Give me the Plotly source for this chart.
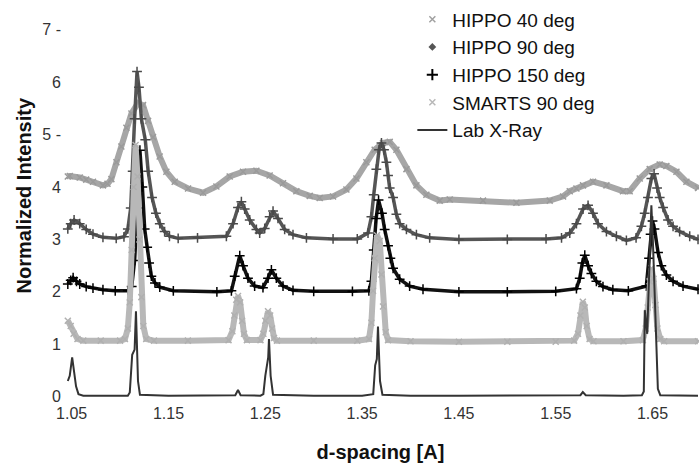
import plotly.graph_objects as go

# ---- data (d-spacing in Angstrom, normalized intensity with offsets) ----
hippo40_d = [1.046, 1.048, 1.0583, 1.065, 1.072, 1.0823, 1.087, 1.091, 1.0962, 1.1013, 1.1065, 1.1117,
             1.1185, 1.1237, 1.1289, 1.134, 1.1409, 1.1478, 1.1564, 1.1702, 1.1857, 1.1995, 1.2132, 1.227,
             1.2408, 1.2545, 1.2683, 1.2821, 1.2959, 1.3062, 1.32, 1.3338, 1.3441, 1.3544, 1.363, 1.3716,
             1.3785, 1.3854, 1.3958, 1.4061, 1.4164, 1.4302, 1.4405, 1.4749, 1.5094, 1.5438, 1.5576, 1.5645,
             1.5714, 1.5782, 1.5885, 1.6024, 1.6195, 1.6264, 1.6368, 1.6471, 1.6574, 1.6643, 1.6747, 1.685, 1.697]
hippo40_i = [4.20, 4.21, 4.18, 4.14, 4.10, 4.03, 4.06, 4.15, 4.47, 4.77, 5.13, 5.40,
             5.60, 5.56, 5.26, 4.95, 4.58, 4.29, 4.10, 3.97, 3.89, 4.01, 4.20, 4.29,
             4.31, 4.22, 4.07, 3.92, 3.83, 3.79, 3.82, 3.95, 4.16, 4.47, 4.71, 4.84,
             4.86, 4.71, 4.34, 4.03, 3.85, 3.74, 3.76, 3.74, 3.70, 3.74, 3.82, 3.92,
             3.97, 4.03, 4.10, 4.03, 3.92, 3.92, 4.16, 4.34, 4.43, 4.40, 4.29, 4.10, 3.98]

hippo90_d = [1.046, 1.049, 1.0525, 1.0583, 1.065, 1.072, 1.0823, 1.096, 1.104, 1.108, 1.111, 1.113,
             1.115, 1.1175, 1.1195, 1.122, 1.126, 1.129, 1.133, 1.137, 1.141, 1.146, 1.151, 1.16,
             1.18, 1.2098, 1.2167, 1.2218, 1.2253, 1.2287, 1.2339, 1.2408, 1.2442, 1.2494, 1.2545, 1.258,
             1.2631, 1.27, 1.2786, 1.2925, 1.32, 1.345, 1.3561, 1.3596, 1.362, 1.3647, 1.3675, 1.37,
             1.3726, 1.3751, 1.3768, 1.3785, 1.382, 1.3854, 1.3888, 1.3958, 1.4061, 1.4198, 1.45, 1.5,
             1.54, 1.556, 1.5645, 1.5714, 1.5782, 1.5834, 1.5885, 1.5937, 1.6024, 1.6127, 1.623, 1.633,
             1.6385, 1.6419, 1.6453, 1.6488, 1.6516, 1.6547, 1.6574, 1.6609, 1.666, 1.6712, 1.678, 1.6884, 1.697]
hippo90_i = [3.20, 3.30, 3.37, 3.30, 3.19, 3.10, 3.04, 3.02, 3.05, 3.20, 3.60, 4.30,
             5.30, 6.20, 5.90, 5.30, 4.90, 4.30, 3.80, 3.50, 3.30, 3.15, 3.06, 3.02,
             3.03, 3.06, 3.30, 3.61, 3.72, 3.58, 3.37, 3.19, 3.12, 3.21, 3.43, 3.54,
             3.40, 3.19, 3.09, 3.03, 3.01, 3.01, 3.12, 3.43, 3.85, 4.34, 4.71, 4.84,
             4.71, 4.47, 4.22, 3.98, 3.80, 3.48, 3.30, 3.19, 3.09, 3.03, 3.00, 3.00,
             3.01, 3.03, 3.12, 3.30, 3.58, 3.65, 3.50, 3.30, 3.15, 3.06, 2.98, 3.03,
             3.25, 3.50, 3.80, 4.16, 4.25, 3.98, 3.80, 3.61, 3.37, 3.25, 3.15, 3.06, 3.00]

hippo150_d = [1.046, 1.049, 1.0515, 1.055, 1.0583, 1.065, 1.072, 1.0823, 1.095, 1.108, 1.112, 1.115,
              1.118, 1.1205, 1.123, 1.1254, 1.128, 1.13, 1.1323, 1.136, 1.141, 1.155, 1.2, 1.215,
              1.2184, 1.2236, 1.227, 1.2321, 1.239, 1.2476, 1.2528, 1.2563, 1.2614, 1.2683, 1.2786, 1.3,
              1.34, 1.357, 1.3596, 1.362, 1.3645, 1.367, 1.3705, 1.3733, 1.3768, 1.3792, 1.382, 1.3888,
              1.3991, 1.4129, 1.45, 1.5, 1.55, 1.5714, 1.5748, 1.5775, 1.58, 1.5834, 1.5868, 1.592,
              1.5988, 1.609, 1.625, 1.6436, 1.6464, 1.648, 1.65, 1.652, 1.6557, 1.6591, 1.6643, 1.6712,
              1.6815, 1.697]
hippo150_i = [2.15, 2.22, 2.27, 2.20, 2.15, 2.10, 2.07, 2.04, 2.02, 2.02, 2.10, 2.60,
              3.60, 4.70, 4.00, 3.20, 2.85, 2.55, 2.30, 2.17, 2.09, 2.02, 2.00, 2.02,
              2.30, 2.69, 2.50, 2.26, 2.11, 2.08, 2.26, 2.42, 2.26, 2.11, 2.03, 2.01,
              2.01, 2.02, 2.20, 2.80, 3.40, 3.75, 3.50, 3.19, 2.88, 2.64, 2.45, 2.24,
              2.11, 2.05, 2.00, 2.00, 2.01, 2.06, 2.26, 2.55, 2.70, 2.50, 2.35, 2.20,
              2.10, 2.04, 2.02, 2.11, 2.64, 3.10, 3.35, 3.20, 2.75, 2.50, 2.32, 2.20,
              2.11, 2.05]

smarts_d = [1.046, 1.049, 1.052, 1.056, 1.062, 1.08, 1.1, 1.105, 1.108, 1.11, 1.112, 1.114,
            1.116, 1.118, 1.12, 1.122, 1.124, 1.127, 1.135, 1.17, 1.212, 1.216, 1.218, 1.22,
            1.2218, 1.224, 1.226, 1.228, 1.231, 1.245, 1.248, 1.25, 1.2528, 1.255, 1.257, 1.259,
            1.262, 1.3, 1.345, 1.3571, 1.3596, 1.3613, 1.363, 1.3654, 1.3682, 1.37, 1.3716, 1.3744,
            1.3768, 1.4, 1.45, 1.5, 1.55, 1.569, 1.573, 1.5755, 1.578, 1.58, 1.582, 1.585,
            1.589, 1.62, 1.64, 1.643, 1.645, 1.647, 1.649, 1.651, 1.653, 1.655, 1.658, 1.662, 1.697]
smarts_i = [1.45, 1.35, 1.20, 1.10, 1.07, 1.07, 1.07, 1.10, 1.30, 1.80, 2.80, 4.00,
            4.80, 4.20, 3.00, 1.90, 1.35, 1.10, 1.07, 1.07, 1.08, 1.25, 1.55, 1.85,
            1.92, 1.80, 1.45, 1.20, 1.08, 1.08, 1.20, 1.45, 1.63, 1.55, 1.30, 1.12,
            1.07, 1.07, 1.07, 1.10, 1.41, 2.02, 2.64, 3.08, 2.97, 2.33, 1.72, 1.23,
            1.08, 1.06, 1.05, 1.05, 1.05, 1.07, 1.20, 1.55, 1.81, 1.70, 1.35, 1.10,
            1.06, 1.06, 1.08, 1.30, 1.70, 2.20, 2.45, 2.25, 1.75, 1.30, 1.10, 1.06, 1.06]

xray_d = [1.046, 1.048, 1.0505, 1.0525, 1.0545, 1.057, 1.062, 1.09, 1.108, 1.11, 1.1125, 1.115,
          1.1164, 1.1185, 1.1205, 1.15, 1.2, 1.219, 1.2218, 1.2245, 1.245, 1.248, 1.25, 1.2515,
          1.253, 1.2538, 1.2555, 1.258, 1.3, 1.35, 1.3615, 1.3635, 1.3652, 1.3664, 1.3685, 1.371,
          1.4, 1.45, 1.5, 1.55, 1.5755, 1.578, 1.581, 1.62, 1.639, 1.641, 1.642, 1.6445,
          1.6488, 1.6505, 1.6525, 1.654, 1.6555, 1.658, 1.697]
xray_i = [0.30, 0.40, 0.75, 0.50, 0.20, 0.05, 0.02, 0.02, 0.02, 0.08, 0.80, 0.90,
          1.63, 0.30, 0.04, 0.02, 0.02, 0.03, 0.13, 0.03, 0.02, 0.05, 0.40, 0.60,
          0.75, 1.10, 0.40, 0.04, 0.02, 0.02, 0.05, 0.60, 0.72, 1.34, 0.30, 0.04,
          0.02, 0.02, 0.02, 0.02, 0.03, 0.09, 0.03, 0.02, 0.03, 0.10, 1.65, 1.20,
          3.65, 2.90, 1.80, 0.80, 0.15, 0.03, 0.02]

x_ticks = [1.05, 1.15, 1.25, 1.35, 1.45, 1.55, 1.65]
x_tick_text = ["1.05", "1.15", "1.25", "1.35", "1.45", "1.55", "1.65"]
y_ticks = [0, 1, 2, 3, 4, 5, 6, 7]
y_tick_text = ["0", "1", "2", "3", "4", "5 -", "6", "7 -"]

names = ["HIPPO 40 deg", "HIPPO 90 deg", "HIPPO 150 deg", "SMARTS 90 deg", "Lab X-Ray"]

FONT = "Liberation Sans, Arial, sans-serif"

fig = go.Figure()

# data traces (drawn bottom to top)
fig.add_trace(go.Scatter(x=hippo40_d, y=hippo40_i, mode="lines+markers", showlegend=False,
                         line=dict(color="#a6a6a6", width=6),
                         marker=dict(symbol="x-thin", size=6, line=dict(width=1.5, color="#9a9a9a"))))
fig.add_trace(go.Scatter(x=hippo90_d, y=hippo90_i, mode="lines+markers", showlegend=False,
                         line=dict(color="#555555", width=3.5),
                         marker=dict(symbol="cross-thin", size=7, line=dict(width=1.5, color="#4a4a4a"))))
fig.add_trace(go.Scatter(x=hippo150_d, y=hippo150_i, mode="lines+markers", showlegend=False,
                         line=dict(color="#111111", width=3.5),
                         marker=dict(symbol="cross-thin", size=7, line=dict(width=1.5, color="#000000"))))
fig.add_trace(go.Scatter(x=smarts_d, y=smarts_i, mode="lines+markers", showlegend=False,
                         line=dict(color="#b8b8b8", width=6),
                         marker=dict(symbol="x-thin", size=6, line=dict(width=1.5, color="#b0b0b0"))))
fig.add_trace(go.Scatter(x=xray_d, y=xray_i, mode="lines", showlegend=False,
                         line=dict(color="#333333", width=2)))

# legend entries
fig.add_trace(go.Scatter(x=[None], y=[None], mode="markers", name=names[0],
                         marker=dict(symbol="x-thin", size=6, line=dict(width=1.5, color="#a0a0a0"))))
fig.add_trace(go.Scatter(x=[None], y=[None], mode="markers", name=names[1],
                         marker=dict(symbol="diamond", size=6, color="#555555")))
fig.add_trace(go.Scatter(x=[None], y=[None], mode="markers", name=names[2],
                         marker=dict(symbol="cross-thin", size=8, line=dict(width=2, color="#000000"))))
fig.add_trace(go.Scatter(x=[None], y=[None], mode="markers", name=names[3],
                         marker=dict(symbol="x-thin", size=6, line=dict(width=1.5, color="#b8b8b8"))))
fig.add_trace(go.Scatter(x=[None], y=[None], mode="lines", name=names[4],
                         line=dict(color="#333333", width=2)))

fig.update_layout(
    width=699, height=472,
    margin=dict(l=62, r=0, t=12, b=70),
    paper_bgcolor="white", plot_bgcolor="white",
    font=dict(family=FONT, size=16, color="#222222"),
    legend=dict(x=0.550, xanchor="left", y=1.071, yanchor="top",
                font=dict(size=19, color="#111111"), bgcolor="rgba(0,0,0,0)",
                itemwidth=30),
    xaxis=dict(range=[1.04, 1.698], tickvals=x_ticks, ticktext=x_tick_text, automargin=False,
               showgrid=False, zeroline=False, showline=False, ticks="",
               tickfont=dict(size=16, color="#333333"),
               title=dict(text="<b>d-spacing [A]</b>", font=dict(size=20, color="#111111"), standoff=23)),
    yaxis=dict(range=[-0.1, 7.05], tickvals=y_ticks, ticktext=y_tick_text, automargin=False,
               showgrid=False, zeroline=False, showline=False, ticks="",
               tickfont=dict(size=16, color="#333333")),
    annotations=[dict(text="<b>Normalized Intensity</b>", xref="paper", yref="paper",
                      x=-0.06, y=0.55, xanchor="center", yanchor="middle", textangle=-90,
                      showarrow=False, font=dict(size=20, color="#111111"))],
)

# remove the default page margin so the figure fills the window exactly
fig.write_html("out.html", config={"displayModeBar": False},
               post_script="document.body.style.margin='0';")
